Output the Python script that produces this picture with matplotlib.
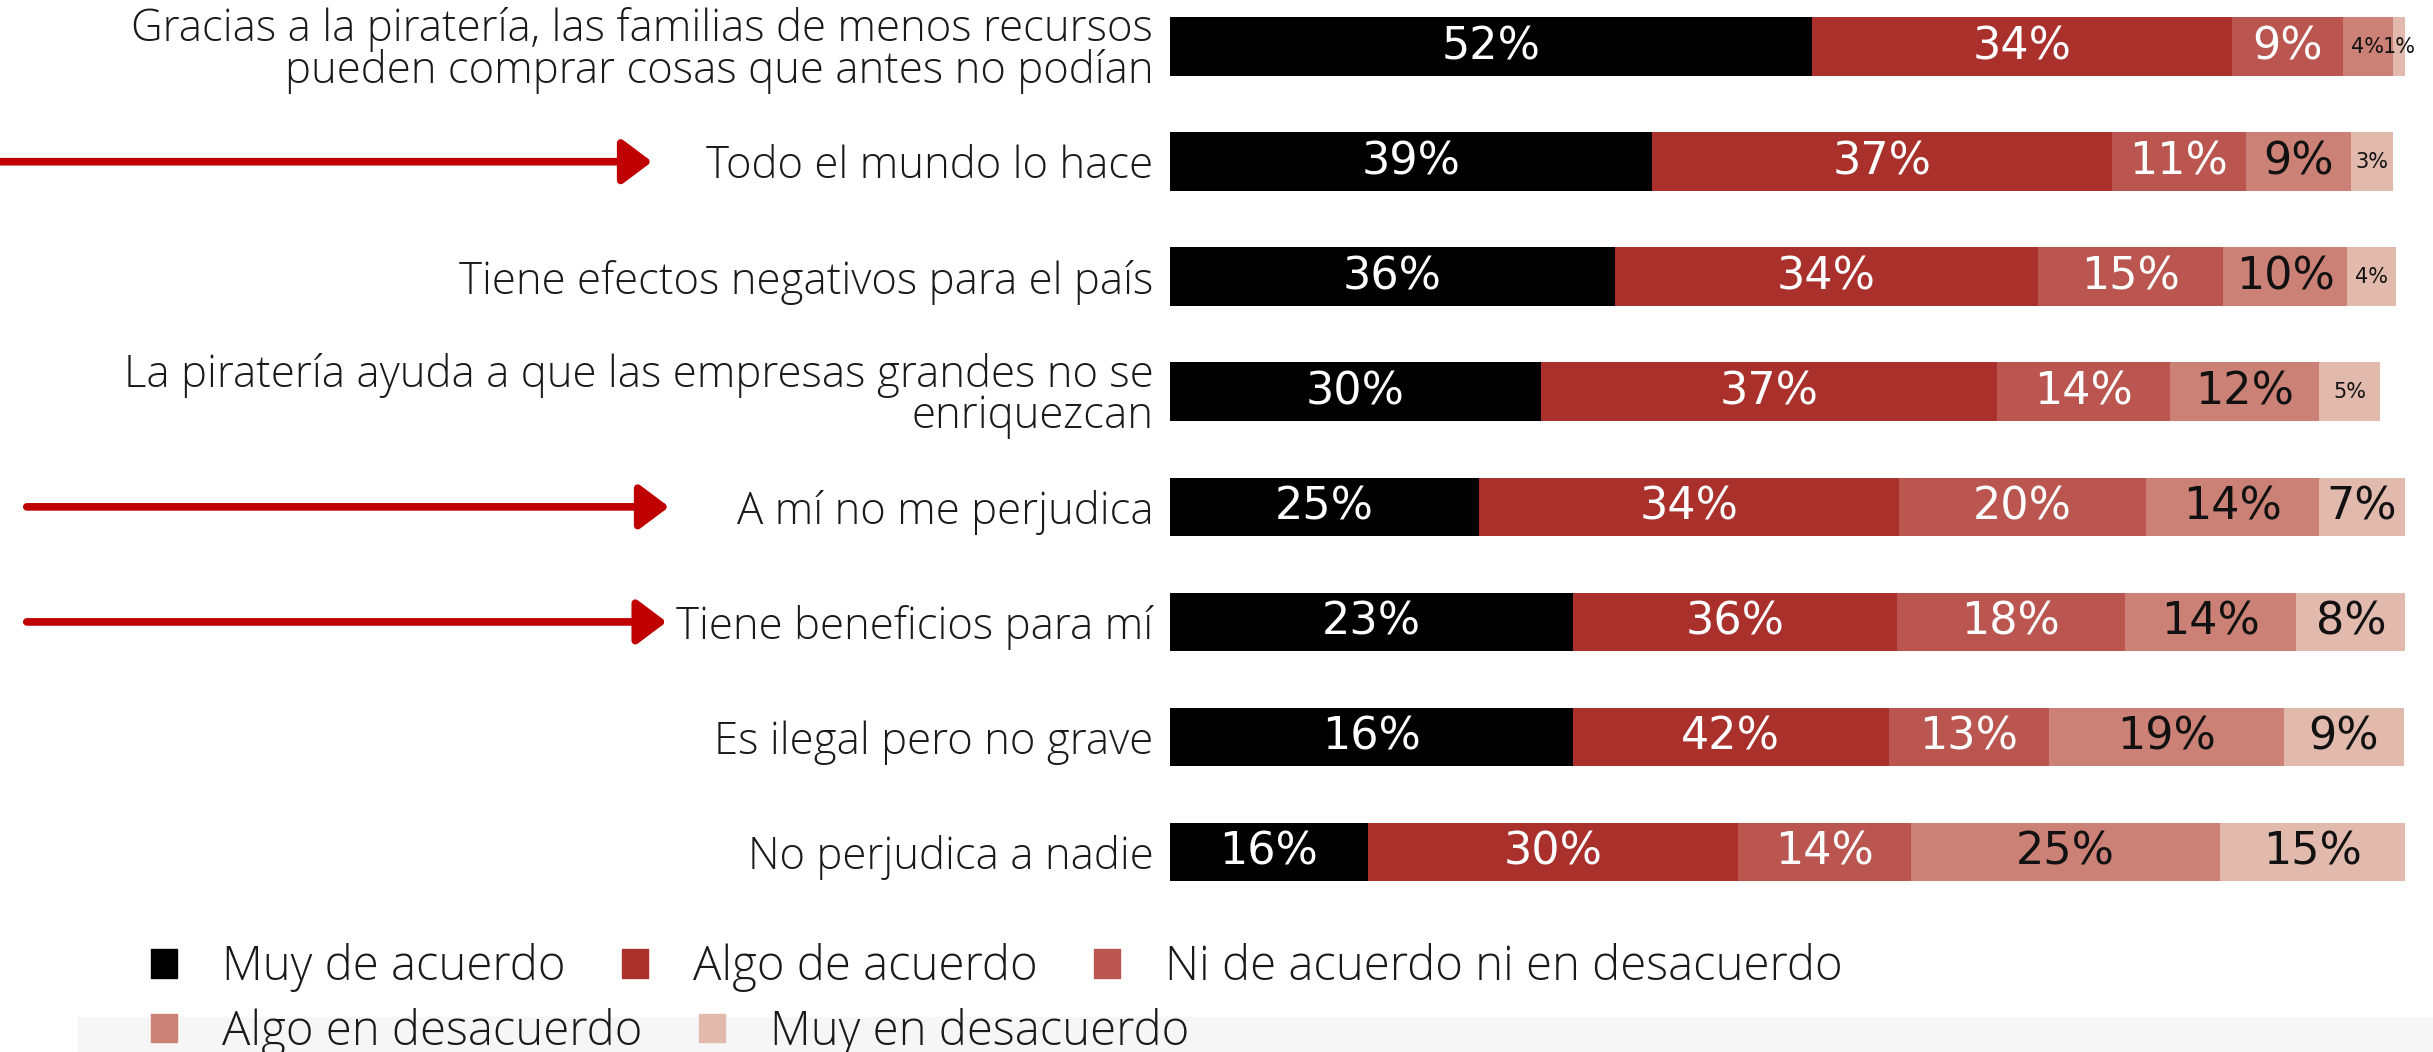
import matplotlib
matplotlib.use("Agg")
import matplotlib.pyplot as plt
from matplotlib.patches import Patch, Rectangle
import numpy as np

# Categorías (de arriba a abajo)
categorias = [
    "Gracias a la piratería, las familias de menos recursos\npueden comprar cosas que antes no podían",
    "Todo el mundo lo hace",
    "Tiene efectos negativos para el país",
    "La piratería ayuda a que las empresas grandes no se\nenriquezcan",
    "A mí no me perjudica",
    "Tiene beneficios para mí",
    "Es ilegal pero no grave",
    "No perjudica a nadie",
]

series = ["Muy de acuerdo", "Algo de acuerdo", "Ni de acuerdo ni en desacuerdo",
          "Algo en desacuerdo", "Muy en desacuerdo"]

# largo de cada tramo tal como se ve en la figura (%)
muy_acuerdo = [52, 39, 36, 30, 25, 32.6, 32.6, 16]
algo_acuerdo = [34, 37.3, 34.3, 37, 34, 26.3, 25.6, 30]
ni_ni = [9, 10.8, 15, 14, 20, 18.4, 13, 14]
algo_desacuerdo = [4, 8.5, 10, 12, 14, 13.9, 19, 25]
muy_desacuerdo = [1, 3.4, 4, 5, 7, 8.9, 9.7, 15]

# etiquetas escritas en cada tramo
etq_muy_acuerdo = [52, 39, 36, 30, 25, 23, 16, 16]
etq_algo_acuerdo = [34, 37, 34, 37, 34, 36, 42, 30]
etq_ni_ni = [9, 11, 15, 14, 20, 18, 13, 14]
etq_algo_desacuerdo = [4, 9, 10, 12, 14, 14, 19, 25]
etq_muy_desacuerdo = [1, 3, 4, 5, 7, 8, 9, 15]

colores = ["#000000", "#AA302C", "#BA554F", "#CB8175", "#E1B9AD"]
color_texto = ["white", "white", "white", "#111111", "#111111"]
color_flecha = "#C00000"

# filas marcadas con flecha: (fila, inicio, fin) en fracción de figura
flechas = [(1, 0.0, 0.268), (4, 0.011, 0.275), (5, 0.011, 0.274)]

valores = [muy_acuerdo, algo_acuerdo, ni_ni, algo_desacuerdo, muy_desacuerdo]
etiquetas = [etq_muy_acuerdo, etq_algo_acuerdo, etq_ni_ni, etq_algo_desacuerdo, etq_muy_desacuerdo]

fig = plt.figure(figsize=(24.33, 10.52), dpi=100)
ax = fig.add_axes([0.4809, 0.1354, 0.5076, 0.864])

y = np.arange(len(categorias))
izq = np.zeros(len(categorias))
for vals, etqs, col, ctxt, nombre in zip(valores, etiquetas, colores, color_texto, series):
    vals = np.array(vals, dtype=float)
    ax.barh(y, vals, left=izq, height=0.51, color=col, label=nombre)
    for i in range(len(y)):
        tam = 15 if etqs[i] < 6 else 32
        ax.text(izq[i] + vals[i] / 2, y[i], f"{etqs[i]}%", ha="center", va="center",
                color=ctxt, fontsize=tam, family="DejaVu Sans")
    izq += vals

ax.set_xlim(0, 100)
ax.set_ylim(7.5, -0.4)
ax.set_yticks(y)
ax.set_yticklabels(categorias, fontsize=31.5, family="Open Sans", fontweight="light",
                   linespacing=0.92, color="#1a1a1a")
ax.tick_params(axis="y", length=0, pad=12)
ax.set_xticks([])
for s in ax.spines.values():
    s.set_visible(False)

for fila, x0, x1 in flechas:
    ax.annotate("", xy=(x1, fila), xytext=(x0, fila),
                xycoords=("figure fraction", "data"), textcoords=("figure fraction", "data"),
                arrowprops=dict(arrowstyle="-|>,head_length=0.6,head_width=0.45",
                                color=color_flecha, lw=5.5, mutation_scale=30,
                                shrinkA=0, shrinkB=0))

# franja gris bajo la segunda fila de la leyenda
fig.patches.append(Rectangle((0.032, 0), 0.968, 0.033, transform=fig.transFigure,
                             color="#F6F6F6", zorder=0))

handles = [Patch(color=c) for c in colores]
opts = dict(frameon=False, handlelength=0.55, handleheight=0.55,
            handletextpad=0.95, columnspacing=1.2, borderpad=0, borderaxespad=0,
            loc="center left", labelcolor="#1a1a1a",
            prop={"family": "Open Sans", "size": 34, "weight": "light"})
fig.legend(handles[:3], series[:3], ncol=3, bbox_to_anchor=(0.062, 0.080), **opts)
fig.legend(handles[3:], series[3:], ncol=2, bbox_to_anchor=(0.062, 0.019), **opts)

fig.savefig("out.png", dpi=100)
